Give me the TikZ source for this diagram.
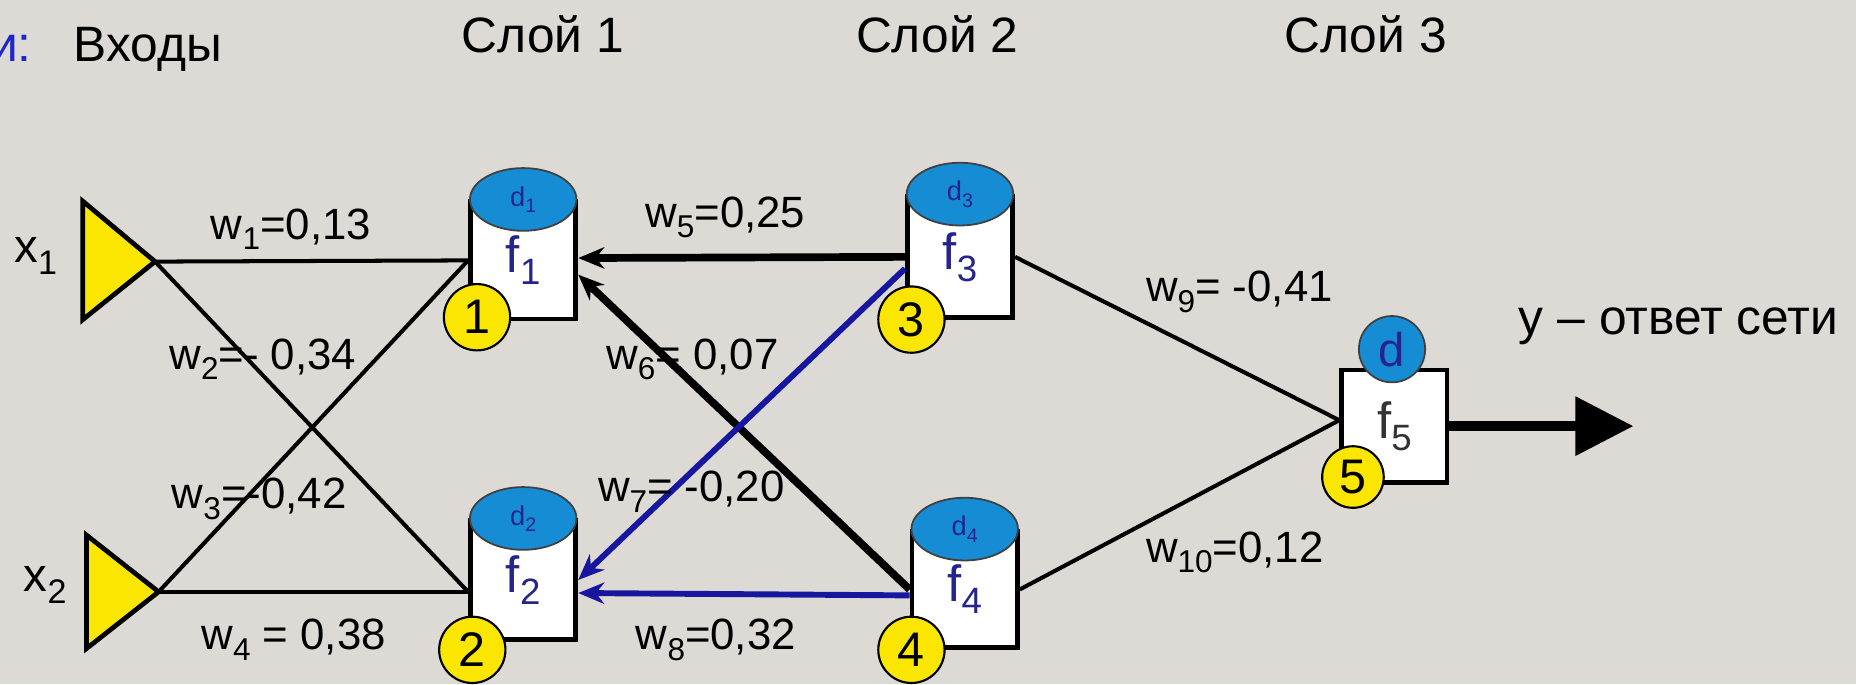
\documentclass[tikz,border=0pt]{standalone}
\usepackage{fontspec}
\setmainfont{Liberation Sans}
\usetikzlibrary{shapes.geometric,arrows.meta,positioning}

\definecolor{paper}{RGB}{221,217,213}
\definecolor{capblue}{RGB}{22,140,212}
\definecolor{signyellow}{RGB}{250,230,0}
\definecolor{navy}{RGB}{36,36,140}
\definecolor{wireblue}{RGB}{22,22,158}
\definecolor{headblue}{RGB}{30,40,200}

% lowered index, as in w_1, f_1, d_1
\newcommand{\lo}[1]{\raisebox{-0.45ex}{\scalebox{0.72}{#1}}}

\tikzset{
  body/.style={draw, line width=4pt, fill=white, minimum width=89pt, inner sep=0pt,
    text=navy, font=\fontsize{43}{43}\selectfont},
  lid/.style={draw=black!75, line width=1.5pt, ellipse, fill=capblue, minimum width=90pt,
    minimum height=53pt, inner sep=0pt, text=navy, font=\fontsize{23}{23}\selectfont},
  tag/.style={draw, circle, line width=1.8pt, fill=signyellow, minimum size=56pt,
    inner sep=0pt, font=\fontsize{41}{41}\selectfont},
  feed/.style={draw, line width=4pt, fill=signyellow, line join=miter},
  wire/.style={line width=3.4pt},
  wback/.style={line width=6.5pt, -{Stealth[length=22pt,width=18pt]}},
  wbackblue/.style={wback, draw=wireblue, line width=5pt},
  wlabel/.style={anchor=base west, inner sep=0pt, font=\fontsize{37}{37}\selectfont},
  heading/.style={anchor=base west, inner sep=0pt, font=\fontsize{42}{42}\selectfont}
}

\begin{document}
\begin{tikzpicture}[x=1pt, y=-1pt]
\useasboundingbox (0,0) rectangle (1568,578);
\fill[paper] (0,0) rectangle (1568,578);

% headings
\node[heading, anchor=base east, text=headblue] (hlead) at (27,52) {и:};
\node[heading] (hin) at (62,52) {Входы};
\node[heading] (h1) at (390,44) {Слой 1};
\node[heading] (h2) at (723,44) {Слой 2};
\node[heading] (h3) at (1085,44) {Слой 3};

% inputs
\coordinate (in1) at (131,221);
\coordinate (in2) at (134,500);
\draw[feed] (70,170) -- (in1) -- (70,270) -- cycle;
\draw[feed] (73,452) -- (in2) -- (73,548) -- cycle;
\node[wlabel, font=\fontsize{40}{40}\selectfont] (x1) at (12,222) {x\lo{1}};
\node[wlabel, font=\fontsize{40}{40}\selectfont] (x2) at (20,500) {x\lo{2}};

% neurons
\node[body, minimum height=99pt] (n1) at (442,220) {f\lo{1}};
\node[body, minimum height=100pt] (n2) at (442,490) {f\lo{2}};
\node[body, minimum height=102pt] (n3) at (811,217) {f\lo{3}};
\node[body, minimum height=98pt] (n4) at (815,498) {f\lo{4}};
\node[body, minimum height=95pt, text=black!80] (n5) at (1178,360) {f\lo{5}};

% connections
\draw[wire] (in1) -- (n1.west);
\draw[wire] (in1) -- ([yshift=-10pt]n2.west);
\draw[wire] (in2) -- (n1.west);
\draw[wire] (in2) -- ([yshift=-10pt]n2.west);
\draw[wback] (n3.west) -- ([yshift=2pt]n1.east);
\draw[wback] (n4.west) -- ([yshift=-12pt]n1.east);
\draw[wbackblue] ([yshift=-10pt]n3.west) -- (n2.east);
\draw[wbackblue] ([yshift=-5pt]n4.west) -- ([yshift=-11pt]n2.east);
\draw[wire] (n3.east) -- ([yshift=5pt]n5.west);
\draw[wire] (n4.east) -- ([yshift=5pt]n5.west);
\coordinate (out) at (1380,360);
\draw[line width=8.5pt, -{Triangle[length=49pt,width=48pt]}] (n5.east) -- (out);

% thresholds
\node[lid] (d1) at (n1.north) {d\lo{1}};
\node[lid] (d2) at (n2.north) {d\lo{2}};
\node[lid] (d3) at (n3.north) {d\lo{3}};
\node[lid] (d4) at (n4.north) {d\lo{4}};
\node[lid, circle, minimum size=56pt, font=\fontsize{40}{40}\selectfont] (d5) at (1176,295) {d};

% neuron numbers
\node[tag] (t1) at (403,268) {1};
\node[tag] (t2) at (399,549) {2};
\node[tag] (t3) at (770,270) {3};
\node[tag] (t4) at (770,549) {4};
\node[tag, minimum size=52pt] (t5) at (1143,403) {5};

% weights
\node[wlabel] (lw1) at (178,202) {w\lo{1}=0,13};
\node[wlabel] (lw2) at (143,312) {w\lo{2}=- 0,34};
\node[wlabel] (lw3) at (145,430) {w\lo{3}=-0,42};
\node[wlabel] (lw4) at (170,549) {w\lo{4} = 0,38};
\node[wlabel] (lw5) at (545,192) {w\lo{5}=0,25};
\node[wlabel] (lw6) at (512,312) {w\lo{6}= 0,07};
\node[wlabel] (lw7) at (505,424) {w\lo{7}= -0,20};
\node[wlabel] (lw8) at (537,549) {w\lo{8}=0,32};
\node[wlabel] (lw9) at (968,255) {w\lo{9}= -0,41};
\node[wlabel] (lw10) at (968,475) {w\lo{10}=0,12};

\node[heading] (answer) at (1283,283) {y – ответ сети};
\end{tikzpicture}
\end{document}
